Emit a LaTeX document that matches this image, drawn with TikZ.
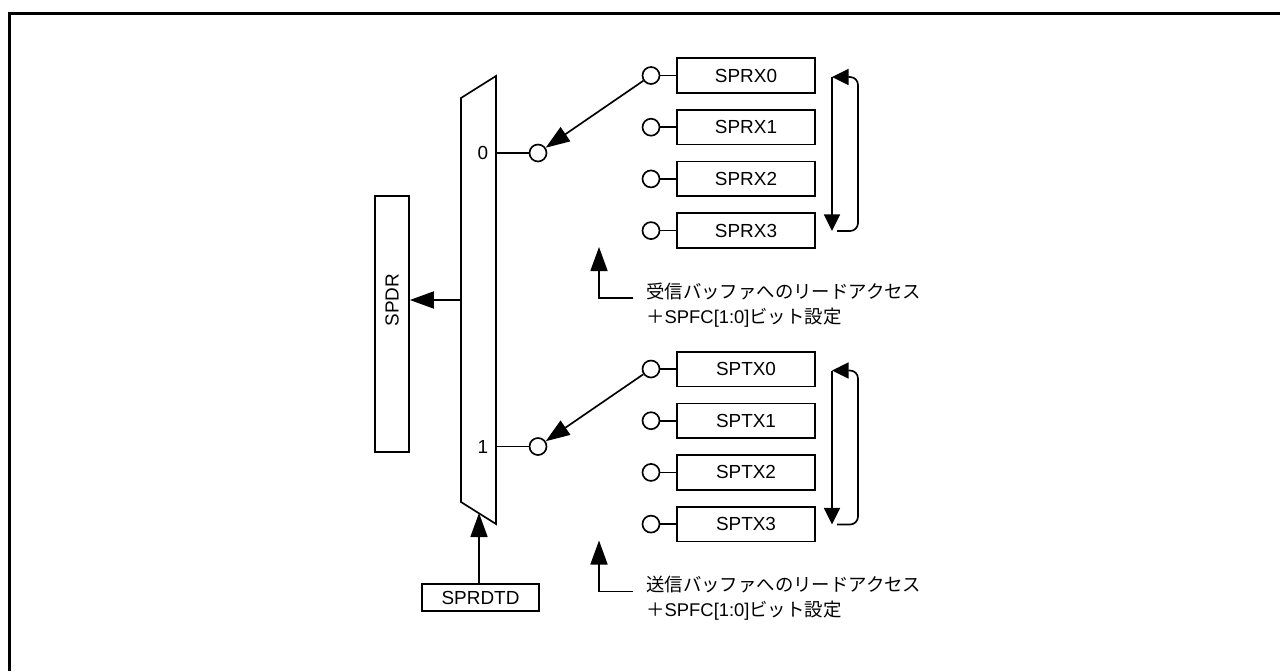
\documentclass[tikz,border=0pt]{standalone}
\usepackage{fontspec}
\setmainfont{Liberation Sans}
\newfontfamily\jp{Noto Sans CJK JP}
\usetikzlibrary{arrows.meta}

\begin{document}
\begin{tikzpicture}[x=0.75pt,y=-0.75pt,line width=1.25pt,
    every node/.style={font=\fontsize{14.2}{18.75}\selectfont},
    reg/.style={draw,minimum width=103.5pt,minimum height=26pt,inner sep=0pt},
    port/.style={draw,circle,minimum size=12.75pt,inner sep=0pt},
    note/.style={anchor=west,align=left,font=\fontsize{13.8}{18.75}\selectfont},
    bigarrow/.style={-{Triangle[length=18pt,width=12.75pt]}},
    cyclearrow/.style={-{Triangle[length=12.5pt,width=12pt]}}]
    \useasboundingbox (0,0) rectangle (1280,671);
    \draw[line width=2.25pt] (9,671) -- (9,13) -- (1280,13);

    % selector
    \draw (461,98) -- (496,76) -- (496,524) -- (461,502) -- cycle;
    \coordinate (MUXA) at (496,153);
    \coordinate (MUXB) at (496,446.5);
    \coordinate (MUXL) at (461,300);
    \coordinate (MUXS) at (479,513);
    \node at (483,153) {0};
    \node at (483,446.5) {1};

    \node[draw,minimum width=25.5pt,minimum height=192pt] (SPDR) at (392,324) {};
    \node[rotate=90] at (392,300) {SPDR};
    \draw[bigarrow] (MUXL) -- (MUXL -| SPDR.east);

    \node[draw,minimum width=87.75pt,minimum height=20.25pt,inner sep=0pt] (SPRDTD) at (480.5,597.5) {SPRDTD};
    \draw[bigarrow] (SPRDTD.north -| MUXS) -- (MUXS);

    \begin{scope}
        \node[reg] (RX0) at (746,75.5) {SPRX0};
        \node[reg] (RX1) at (746,127.2) {SPRX1};
        \node[reg] (RX2) at (746,178.9) {SPRX2};
        \node[reg] (RX3) at (746,230.6) {SPRX3};
        \node[port] (RXP0) at (651,75.5) {};
        \node[port] (RXP1) at (651,127.2) {};
        \node[port] (RXP2) at (651,178.9) {};
        \node[port] (RXP3) at (651,230.6) {};
        \draw (RXP0) -- (RX0);
        \draw (RXP1) -- (RX1);
        \draw (RXP2) -- (RX2);
        \draw (RXP3) -- (RX3);

        \node[port] (RXIN) at (538,153) {};
        \draw (MUXA) -- (RXIN);
        \draw[bigarrow] (RXP0) -- (RXIN);

        \coordinate (RXTOP) at (832,77);
        \coordinate (RXBOT) at (832,231);
        \draw[cyclearrow] (RXTOP) -- (RXBOT);
        \draw[cyclearrow,rounded corners=6pt] ([xshift=3.75pt]RXBOT) -| ([xshift=19.5pt]RXTOP) -- (RXTOP);

        \coordinate (RXTIP) at (599,247);
        \coordinate (RXFOOT) at (633,298);
        \draw[bigarrow] (RXFOOT) -| (RXTIP);
        \node[note] (RXNOTE) at (641,305) {{\jp 受信バッファへのリードアクセス}\\{\jp ＋}SPFC[1:0]{\jp ビット設定}};
    \end{scope}

    \begin{scope}[shift={(0,293.5)}]
        \node[reg] (TX0) at (746,75.5) {SPTX0};
        \node[reg] (TX1) at (746,127.2) {SPTX1};
        \node[reg] (TX2) at (746,178.9) {SPTX2};
        \node[reg] (TX3) at (746,230.6) {SPTX3};
        \node[port] (TXP0) at (651,75.5) {};
        \node[port] (TXP1) at (651,127.2) {};
        \node[port] (TXP2) at (651,178.9) {};
        \node[port] (TXP3) at (651,230.6) {};
        \draw (TXP0) -- (TX0);
        \draw (TXP1) -- (TX1);
        \draw (TXP2) -- (TX2);
        \draw (TXP3) -- (TX3);

        \node[port] (TXIN) at (538,153) {};
        \draw (MUXB) -- (TXIN);
        \draw[bigarrow] (TXP0) -- (TXIN);

        \coordinate (TXTOP) at (832,77);
        \coordinate (TXBOT) at (832,231);
        \draw[cyclearrow] (TXTOP) -- (TXBOT);
        \draw[cyclearrow,rounded corners=6pt] ([xshift=3.75pt]TXBOT) -| ([xshift=19.5pt]TXTOP) -- (TXTOP);

        \coordinate (TXTIP) at (599,247);
        \coordinate (TXFOOT) at (633,298);
        \draw[bigarrow] (TXFOOT) -| (TXTIP);
        \node[note] (TXNOTE) at (641,305) {{\jp 送信バッファへのリードアクセス}\\{\jp ＋}SPFC[1:0]{\jp ビット設定}};
    \end{scope}
\end{tikzpicture}
\end{document}
